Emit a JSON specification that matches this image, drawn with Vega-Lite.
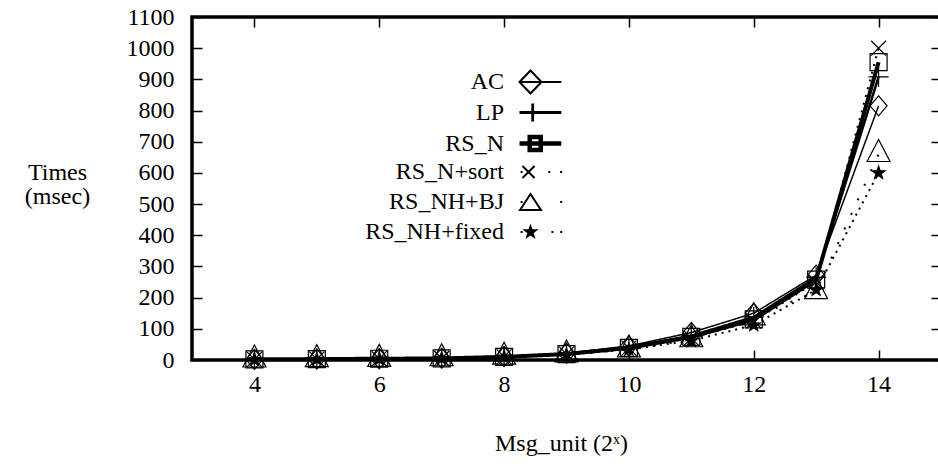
{
  "$schema": "https://vega.github.io/schema/vega-lite/v6.json",
  "autosize": {"type": "none"},
  "padding": {"left": 192, "top": 17, "right": 0, "bottom": 107},
  "width": 749,
  "height": 343,
  "background": "white",
  "config": {
    "view": {"stroke": "black", "strokeWidth": 3.5},
    "font": "Liberation Serif, DejaVu Serif, serif",
    "legend": {"symbolOpacity": 1, "symbolStrokeColor": "black"}
  },
  "data": {
    "values": [
      {"unit": 4, "msec": 2, "series": "AC"},
      {"unit": 5, "msec": 3, "series": "AC"},
      {"unit": 6, "msec": 4, "series": "AC"},
      {"unit": 7, "msec": 6, "series": "AC"},
      {"unit": 8, "msec": 11, "series": "AC"},
      {"unit": 9, "msec": 22, "series": "AC"},
      {"unit": 10, "msec": 45, "series": "AC"},
      {"unit": 11, "msec": 88, "series": "AC"},
      {"unit": 12, "msec": 150, "series": "AC"},
      {"unit": 13, "msec": 272, "series": "AC"},
      {"unit": 14, "msec": 815, "series": "AC"},
      {"unit": 4, "msec": 2, "series": "LP"},
      {"unit": 5, "msec": 3, "series": "LP"},
      {"unit": 6, "msec": 4, "series": "LP"},
      {"unit": 7, "msec": 6, "series": "LP"},
      {"unit": 8, "msec": 10, "series": "LP"},
      {"unit": 9, "msec": 20, "series": "LP"},
      {"unit": 10, "msec": 41, "series": "LP"},
      {"unit": 11, "msec": 78, "series": "LP"},
      {"unit": 12, "msec": 138, "series": "LP"},
      {"unit": 13, "msec": 265, "series": "LP"},
      {"unit": 14, "msec": 908, "series": "LP"},
      {"unit": 4, "msec": 2, "series": "RS_N"},
      {"unit": 5, "msec": 3, "series": "RS_N"},
      {"unit": 6, "msec": 4, "series": "RS_N"},
      {"unit": 7, "msec": 5, "series": "RS_N"},
      {"unit": 8, "msec": 10, "series": "RS_N"},
      {"unit": 9, "msec": 19, "series": "RS_N"},
      {"unit": 10, "msec": 39, "series": "RS_N"},
      {"unit": 11, "msec": 74, "series": "RS_N"},
      {"unit": 12, "msec": 130, "series": "RS_N"},
      {"unit": 13, "msec": 258, "series": "RS_N"},
      {"unit": 14, "msec": 955, "series": "RS_N"},
      {"unit": 4, "msec": 2, "series": "RS_N+sort"},
      {"unit": 5, "msec": 3, "series": "RS_N+sort"},
      {"unit": 6, "msec": 4, "series": "RS_N+sort"},
      {"unit": 7, "msec": 5, "series": "RS_N+sort"},
      {"unit": 8, "msec": 10, "series": "RS_N+sort"},
      {"unit": 9, "msec": 19, "series": "RS_N+sort"},
      {"unit": 10, "msec": 38, "series": "RS_N+sort"},
      {"unit": 11, "msec": 70, "series": "RS_N+sort"},
      {"unit": 12, "msec": 125, "series": "RS_N+sort"},
      {"unit": 13, "msec": 250, "series": "RS_N+sort"},
      {"unit": 14, "msec": 1000, "series": "RS_N+sort"},
      {"unit": 4, "msec": 1, "series": "RS_NH+BJ"},
      {"unit": 5, "msec": 2, "series": "RS_NH+BJ"},
      {"unit": 6, "msec": 3, "series": "RS_NH+BJ"},
      {"unit": 7, "msec": 5, "series": "RS_NH+BJ"},
      {"unit": 8, "msec": 10, "series": "RS_NH+BJ"},
      {"unit": 9, "msec": 17, "series": "RS_NH+BJ"},
      {"unit": 10, "msec": 33, "series": "RS_NH+BJ"},
      {"unit": 11, "msec": 66, "series": "RS_NH+BJ"},
      {"unit": 12, "msec": 136, "series": "RS_NH+BJ"},
      {"unit": 13, "msec": 220, "series": "RS_NH+BJ"},
      {"unit": 14, "msec": 660, "series": "RS_NH+BJ"},
      {"unit": 4, "msec": 1, "series": "RS_NH+fixed"},
      {"unit": 5, "msec": 2, "series": "RS_NH+fixed"},
      {"unit": 6, "msec": 3, "series": "RS_NH+fixed"},
      {"unit": 7, "msec": 5, "series": "RS_NH+fixed"},
      {"unit": 8, "msec": 9, "series": "RS_NH+fixed"},
      {"unit": 9, "msec": 17, "series": "RS_NH+fixed"},
      {"unit": 10, "msec": 34, "series": "RS_NH+fixed"},
      {"unit": 11, "msec": 62, "series": "RS_NH+fixed"},
      {"unit": 12, "msec": 112, "series": "RS_NH+fixed"},
      {"unit": 13, "msec": 225, "series": "RS_NH+fixed"},
      {"unit": 14, "msec": 600, "series": "RS_NH+fixed"}
    ]
  },
  "layer": [
    {
      "mark": {"type": "line", "color": "black", "strokeCap": "butt", "strokeJoin": "miter"},
      "encoding": {
        "x": {
          "field": "unit", "type": "quantitative",
          "scale": {"domain": [3, 15], "nice": false, "zero": false},
          "axis": {
            "orient": "bottom", "values": [4, 6, 8, 10, 12, 14], "format": "d",
            "title": "Msg_unit (2ˣ)", "domain": false, "grid": false,
            "tickSize": -10, "tickColor": "black", "tickWidth": 1.5,
            "labelFont": "Liberation Serif, DejaVu Serif, serif", "labelFontSize": 24, "labelColor": "black",
            "labelPadding": 22, "labelBaseline": "top",
            "titleFont": "Liberation Serif, DejaVu Serif, serif", "titleFontSize": 24, "titleFontWeight": "normal", "titleColor": "black",
            "titleX": 369, "titleY": 83, "titleBaseline": "middle"
          }
        },
        "y": {
          "field": "msec", "type": "quantitative",
          "scale": {"domain": [0, 1100], "nice": false},
          "axis": {
            "orient": "left", "values": [0, 100, 200, 300, 400, 500, 600, 700, 800, 900, 1000, 1100], "format": "d",
            "title": ["Times", "(msec)"], "domain": false, "grid": false,
            "tickSize": -10, "tickColor": "black", "tickWidth": 1.5,
            "labelFont": "Liberation Serif, DejaVu Serif, serif", "labelFontSize": 24, "labelColor": "black",
            "labelPadding": 28,
            "titleFont": "Liberation Serif, DejaVu Serif, serif", "titleFontSize": 24, "titleFontWeight": "normal", "titleColor": "black",
            "titleAngle": 0, "titleAlign": "center", "titleBaseline": "middle",
            "titleX": -135, "titleY": 155, "titleLineHeight": 24
          }
        },
        "strokeDash": {
          "field": "series", "type": "nominal",
          "scale": {"range": [[1, 0], [1, 0], [1, 0], [2, 6], [2, 14], [2, 5]]},
          "legend": null
        },
        "strokeWidth": {
          "field": "series", "type": "nominal",
          "scale": {"type": "ordinal", "range": [1.5, 2.5, 4, 2, 2, 2]},
          "legend": null
        }
      }
    },
    {
      "mark": {"type": "point", "filled": false, "stroke": "black", "strokeWidth": 1.2, "size": 289, "opacity": 1},
      "encoding": {
        "x": {
          "field": "unit", "type": "quantitative",
          "axis": {
            "orient": "top", "values": [4, 6, 8, 10, 12, 14], "labels": false, "title": null,
            "domain": false, "grid": false, "tickSize": -10, "tickColor": "black", "tickWidth": 1.5
          }
        },
        "y": {
          "field": "msec", "type": "quantitative",
          "axis": {
            "orient": "right", "values": [0, 100, 200, 300, 400, 500, 600, 700, 800, 900, 1000, 1100],
            "labels": false, "title": null,
            "domain": false, "grid": false, "tickSize": -10, "tickColor": "black", "tickWidth": 1.5
          }
        },
        "fill": {
          "field": "series", "type": "nominal",
          "scale": {"range": ["transparent", "transparent", "transparent", "transparent", "transparent", "black"]},
          "legend": null
        },
        "shape": {
          "field": "series", "type": "nominal",
          "scale": {
            "range": [
              "M-1,0L0,-1.18L1,0L0,1.18Z",
              "M-1.18,0L1.18,0M0,-1.18L0,1.18",
              "M-1,-1L1,-1L1,1L-1,1Z",
              "M-0.88,-0.88L0.88,0.88M-0.88,0.88L0.88,-0.88",
              "M0,-1.73L1.35,0.86L-1.35,0.86Z",
              "M0,-0.8L0.188,-0.259L0.761,-0.247L0.304,0.099L0.47,0.647L0,0.32L-0.47,0.647L-0.304,0.099L-0.761,-0.247L-0.188,-0.259Z"
            ]
          },
          "legend": null
        }
      }
    },
    {
      "mark": {"type": "point", "filled": false, "stroke": "black", "opacity": 0},
      "encoding": {
        "x": {"field": "unit", "type": "quantitative", "axis": null},
        "y": {"field": "msec", "type": "quantitative", "axis": null},
        "shape": {
          "field": "series", "type": "nominal",
          "scale": {
            "domain": ["AC", "LP", "RS_N", "RS_N+sort", "RS_NH+BJ", "RS_NH+fixed"],
            "range": [
              "M-1,0L0,-1.05L1,0L0,1.05ZM-1,0L2.8,0",
              "M-1,0L2.8,0M0.2,-0.82L0.2,0.82",
              "M-1,0L2.8,0M-0.07,-0.6L0.93,-0.6L0.93,0.6L-0.07,0.6Z",
              "M-0.9,0L-0.72,0M1.62,0L1.8,0M2.7,0L2.88,0M-0.73,-0.55L0.37,0.55M-0.73,0.55L0.37,-0.55",
              "M-0.9,0L-0.72,0M2.7,0L2.88,0M0,-0.73L0.95,0.73L-0.95,0.73Z",
              "M-0.9,0L-0.72,0M1.9,0L2.08,0M2.7,0L2.88,0M0,-0.5L0.118,-0.162L0.476,-0.154L0.19,0.062L0.294,0.405L0,0.2L-0.294,0.405L-0.19,0.062L-0.476,-0.154L-0.118,-0.162Z"
            ]
          },
          "legend": {
            "orient": "none", "legendX": 325, "legendY": 53, "title": null,
            "padding": 0, "symbolSize": 484, "rowPadding": -6.6, "gridAlign": "all",
            "symbolOpacity": 1, "symbolStrokeColor": "black",
            "labelFont": "Liberation Serif, DejaVu Serif, serif", "labelFontSize": 24, "labelColor": "black",
            "labelAlign": "right", "labelOffset": -40, "labelLimit": 300
          }
        },
        "fill": {
          "field": "series", "type": "nominal",
          "scale": {
            "domain": ["AC", "LP", "RS_N", "RS_N+sort", "RS_NH+BJ", "RS_NH+fixed"],
            "range": ["transparent", "transparent", "transparent", "transparent", "transparent", "black"]
          },
          "legend": {
            "orient": "none", "legendX": 325, "legendY": 53, "title": null,
            "padding": 0, "symbolSize": 484, "rowPadding": -6.6, "gridAlign": "all",
            "symbolOpacity": 1, "symbolStrokeColor": "black",
            "labelFont": "Liberation Serif, DejaVu Serif, serif", "labelFontSize": 24, "labelColor": "black",
            "labelAlign": "right", "labelOffset": -40, "labelLimit": 300
          }
        },
        "stroke": {
          "field": "series", "type": "nominal",
          "scale": {
            "domain": ["AC", "LP", "RS_N", "RS_N+sort", "RS_NH+BJ", "RS_NH+fixed"],
            "range": ["black", "black", "black", "black", "black", "black"]
          },
          "legend": {
            "orient": "none", "legendX": 325, "legendY": 53, "title": null,
            "padding": 0, "symbolSize": 484, "rowPadding": -6.6, "gridAlign": "all",
            "symbolOpacity": 1, "symbolStrokeColor": "black",
            "labelFont": "Liberation Serif, DejaVu Serif, serif", "labelFontSize": 24, "labelColor": "black",
            "labelAlign": "right", "labelOffset": -40, "labelLimit": 300
          }
        },
        "strokeWidth": {
          "field": "series", "type": "nominal",
          "scale": {
            "type": "ordinal",
            "domain": ["AC", "LP", "RS_N", "RS_N+sort", "RS_NH+BJ", "RS_NH+fixed"],
            "range": [2, 2.8, 4.5, 2, 2, 2]
          },
          "legend": {
            "orient": "none", "legendX": 325, "legendY": 53, "title": null,
            "padding": 0, "symbolSize": 484, "rowPadding": -6.6, "gridAlign": "all",
            "symbolOpacity": 1, "symbolStrokeColor": "black",
            "labelFont": "Liberation Serif, DejaVu Serif, serif", "labelFontSize": 24, "labelColor": "black",
            "labelAlign": "right", "labelOffset": -40, "labelLimit": 300
          }
        }
      }
    }
  ],
  "resolve": {
    "axis": {"x": "independent", "y": "independent"},
    "scale": {"shape": "independent", "fill": "independent", "stroke": "independent", "strokeWidth": "independent"}
  }
}
